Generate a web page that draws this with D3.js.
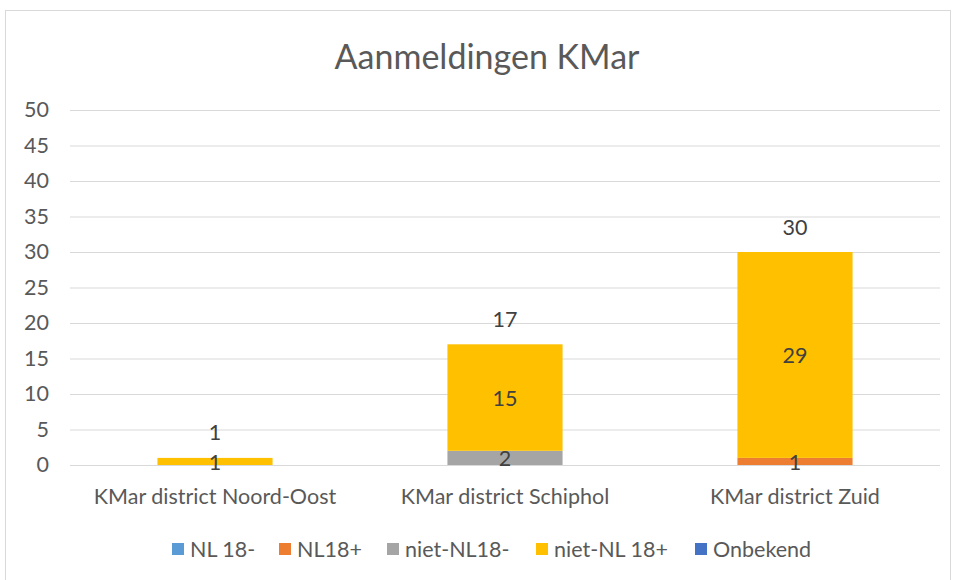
<!DOCTYPE html>
<html><head><meta charset="utf-8">
<script src="https://cdn.jsdelivr.net/npm/d3@7"></script>
<style>body{margin:0;background:#fff}svg{font-family:Lato,"Open Sans",sans-serif}</style>
</head><body>
<script>
const categories = ["KMar district Noord-Oost", "KMar district Schiphol", "KMar district Zuid"];
const seriesNames = ["NL 18-", "NL18+", "niet-NL18-", "niet-NL 18+", "Onbekend"];
const nl18min = [0, 0, 0];
const nl18plus = [0, 0, 1];
const nietNl18min = [0, 2, 0];
const nietNl18plus = [1, 15, 29];
const onbekend = [0, 0, 0];
const totals = [1, 17, 30];
const yTicks = [0, 5, 10, 15, 20, 25, 30, 35, 40, 45, 50];
const colors = ["#5B9BD5", "#ED7D31", "#A5A5A5", "#FFC000", "#4472C4"];

const W = 956, H = 580;
const FS = 21.5;
const svg = d3.select("body").append("svg").attr("width", W).attr("height", H);
svg.append("rect").attr("x", 5.5).attr("y", 10.5).attr("width", 945).attr("height", 580)
  .attr("fill", "#fff").attr("stroke", "#d9d9d9");

const seriesVals = [nl18min, nl18plus, nietNl18min, nietNl18plus, onbekend];
const rows = categories.map((c, i) => {
  const r = {cat: c};
  seriesNames.forEach((s, j) => r[s] = seriesVals[j][i]);
  return r;
});
const stacked = d3.stack().keys(seriesNames)(rows);

const x = d3.scaleBand().domain(categories).range([70, 940]).paddingInner(0.603).paddingOuter(0.3015);
const y = d3.scaleLinear().domain([0, 50]).range([465, 110]);

svg.append("text").attr("x", 487).attr("y", 69).attr("text-anchor", "middle")
  .attr("font-size", 34).attr("fill", "#595959").text("Aanmeldingen KMar");

const yAxis = svg.append("g").attr("transform", "translate(70,0)")
  .call(d3.axisLeft(y).tickValues(yTicks).tickSize(-870).tickPadding(21));
yAxis.select(".domain").remove();
yAxis.selectAll("line").attr("stroke", "#d9d9d9");
yAxis.selectAll("text").attr("font-size", FS).attr("fill", "#595959").attr("font-family", "Lato");

stacked.forEach((layer, j) => {
  svg.append("g").selectAll("rect").data(layer).join("rect")
    .attr("x", d => x(d.data.cat)).attr("width", x.bandwidth())
    .attr("y", d => y(d[1])).attr("height", d => y(d[0]) - y(d[1]))
    .attr("fill", colors[j]);
});
stacked.forEach((layer) => {
  svg.append("g").selectAll("text").data(layer.filter(d => d[1] - d[0] > 0)).join("text")
    .attr("x", d => x(d.data.cat) + x.bandwidth() / 2)
    .attr("y", d => (y(d[0]) + y(d[1])) / 2 + 1)
    .attr("dy", "0.35em").attr("text-anchor", "middle")
    .attr("font-size", FS).attr("fill", "#404040").text(d => d[1] - d[0]);
});
svg.append("g").selectAll("text").data(categories).join("text")
  .attr("x", c => x(c) + x.bandwidth() / 2)
  .attr("y", (c, i) => y(totals[i]) - 25)
  .attr("dy", "0.35em").attr("text-anchor", "middle")
  .attr("font-size", FS).attr("fill", "#404040").text((c, i) => totals[i]);

svg.append("g").selectAll("text").data(categories).join("text")
  .attr("x", c => x(c) + x.bandwidth() / 2).attr("y", 496)
  .attr("dy", "0.35em").attr("text-anchor", "middle")
  .attr("font-size", FS).attr("fill", "#595959").text(c => c);

const legendX = [172, 279, 387, 536, 695];
const lg = svg.append("g").selectAll("g").data(seriesNames).join("g")
  .attr("transform", (d, i) => `translate(${legendX[i]},549)`);
lg.append("rect").attr("x", 0).attr("y", -6).attr("width", 12).attr("height", 12)
  .attr("fill", (d, i) => colors[i]);
lg.append("text").attr("x", 18).attr("dy", "0.35em").attr("font-size", FS)
  .attr("fill", "#595959").text(d => d);
</script>
</body></html>
